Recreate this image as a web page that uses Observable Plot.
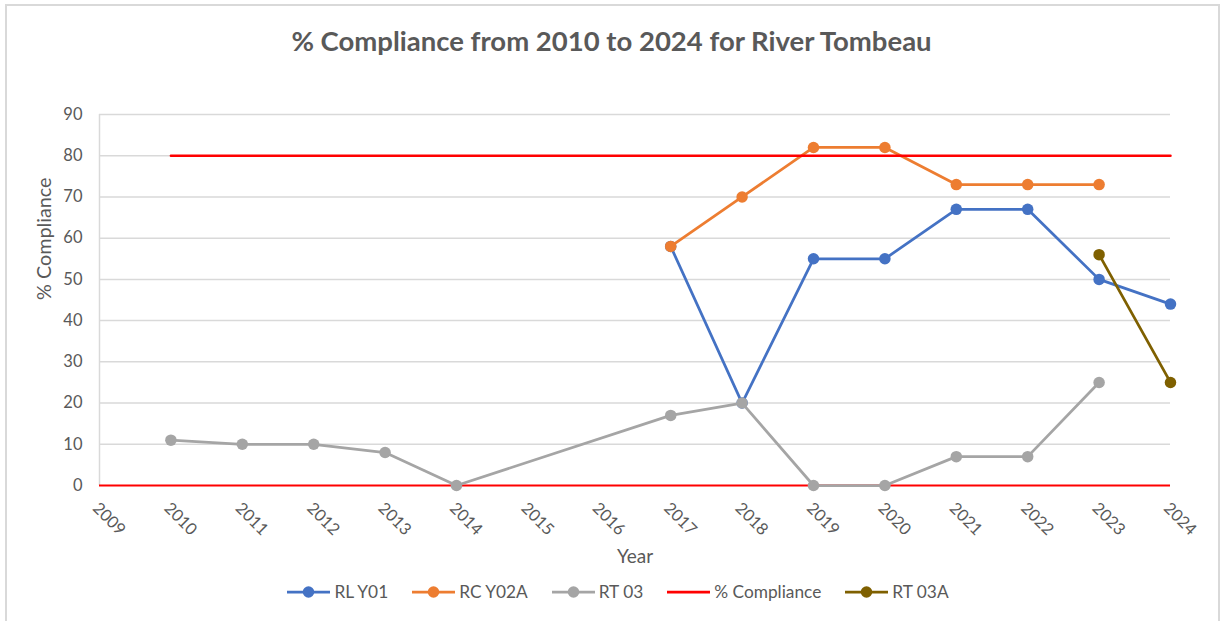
<!DOCTYPE html>
<html>
<head>
<meta charset="utf-8">
<script src="https://cdn.jsdelivr.net/npm/d3@7"></script>
<script src="https://cdn.jsdelivr.net/npm/@observablehq/plot@0.6"></script>
<style>
  html, body { margin: 0; padding: 0; background: #fff; }
  #wrap { position: relative; width: 1223px; height: 621px; overflow: hidden; font-family: Lato, "Open Sans", sans-serif; color: #595959; }
  #border { position: absolute; left: 5px; top: 4px; width: 1215px; height: 640px; border: 2px solid #d9d9d9; box-sizing: border-box; }
  #title { position: absolute; left: 0; width: 1223px; top: 24px; text-align: center; font-size: 27.5px; font-weight: bold; color: #595959; line-height: 34px; }
  #chart { position: absolute; left: 0; top: 80px; }
  #legend { position: absolute; left: 0; width: 1223px; top: 581px; display: flex; justify-content: center; gap: 24px; font-size: 17.3px; color: #595959; padding-left: 13px; box-sizing: border-box; line-height: 22px; }
  .item { display: flex; align-items: center; gap: 4px; }
  .item svg { display: block; }
</style>
</head>
<body>
<div id="wrap">
  <div id="border"></div>
  <div id="title">% Compliance from 2010 to 2024 for River Tombeau</div>
  <div id="chart"></div>
  <div id="legend"></div>
</div>
<script>
const years      = [2009, 2010, 2011, 2012, 2013, 2014, 2015, 2016, 2017, 2018, 2019, 2020, 2021, 2022, 2023, 2024];
const rlY01      = [null, null, null, null, null, null, null, null,   58,   20,   55,   55,   67,   67,   50,   44];
const rcY02A     = [null, null, null, null, null, null, null, null,   58,   70,   82,   82,   73,   73,   73, null];
const rt03       = [null,   11,   10,   10,    8,    0, null, null,   17,   20,    0,    0,    7,    7,   25, null];
const compliance = [null,   80,   80,   80,   80,   80,   80,   80,   80,   80,   80,   80,   80,   80,   80,   80];
const rt03A      = [null, null, null, null, null, null, null, null, null, null, null, null, null, null,   56,   25];
const yTicks     = [0, 10, 20, 30, 40, 50, 60, 70, 80, 90];

const seriesNames  = ["RL Y01", "RC Y02A", "RT 03", "% Compliance", "RT 03A"];
const seriesValues = [rlY01, rcY02A, rt03, compliance, rt03A];
const seriesColors = ["#4472C4", "#ED7D31", "#A5A5A5", "#FF0000", "#7F6000"];
const seriesDots   = [true, true, true, false, true];

const tidy = (vals) => years.map((x, i) => ({x, y: vals[i]})).filter(d => d.y != null);

const marks = [
  Plot.ruleY(yTicks.filter(t => t > 0), {stroke: "#d9d9d9", strokeWidth: 1.5}),
  Plot.ruleX([years[0]], {y1: 0, y2: 90, stroke: "#d9d9d9", strokeWidth: 1.5}),
  Plot.ruleY([0], {stroke: "#FF0000", strokeWidth: 2}),
  Plot.axisY({ticks: yTicks, tickSize: 0, tickPadding: 17, fontSize: 16.5, label: null, fill: "#595959"}),
  Plot.text(years, {x: d => d, frameAnchor: "bottom", dy: 20, dx: -4, rotate: 45, textAnchor: "start", lineAnchor: "middle", fontSize: 16.5, fill: "#595959", text: d => String(d)}),
  Plot.text(["% Compliance"], {frameAnchor: "left", dx: -55, rotate: -90, fontSize: 19.8, fill: "#595959"}),
  Plot.text(["Year"], {frameAnchor: "bottom", dy: 77, fontSize: 19, fill: "#595959"})
];
seriesValues.forEach((vals, i) => {
  const data = tidy(vals);
  marks.push(Plot.line(data, {x: "x", y: "y", stroke: seriesColors[i], strokeWidth: i === 3 ? 2.5 : 2.75}));
  if (seriesDots[i]) marks.push(Plot.dot(data, {x: "x", y: "y", r: 5.75, fill: seriesColors[i], stroke: "none"}));
});

const chart = Plot.plot({
  width: 1223,
  height: 490,
  marginTop: 34,
  marginBottom: 85,
  marginLeft: 99,
  marginRight: 53,
  style: {fontFamily: "Lato, 'Open Sans', sans-serif", background: "transparent", overflow: "visible"},
  x: {domain: [2009, 2024], axis: null},
  y: {domain: [0, 90], axis: null},
  marks
});
document.getElementById("chart").appendChild(chart);

const legend = document.getElementById("legend");
seriesNames.forEach((name, i) => {
  const item = document.createElement("div");
  item.className = "item";
  const dot = seriesDots[i] ? `<circle cx="21.5" cy="8" r="5.75" fill="${seriesColors[i]}"/>` : "";
  item.innerHTML = `<svg width="43" height="16"><line x1="0" y1="8" x2="43" y2="8" stroke="${seriesColors[i]}" stroke-width="2.75"/>${dot}</svg><span>${name}</span>`;
  legend.appendChild(item);
});
</script>
</body>
</html>
